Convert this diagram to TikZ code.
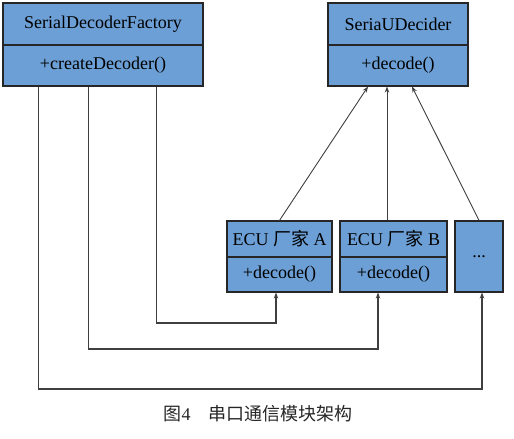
\documentclass[tikz,border=0pt]{standalone}
\usepackage{fontspec}
\setmainfont{Liberation Serif}
\newfontfamily\cjk{Noto Sans CJK SC}
\usetikzlibrary{arrows.meta}

\definecolor{boxblue}{HTML}{6C9FD5}
\definecolor{linegray}{HTML}{3F3F3F}

\begin{document}
\begin{tikzpicture}[
    x=1pt, y=-1pt,
    % class compartments (name and method rows)
    umlbox/.style={
        draw=black!85, line width=1.1pt, fill=boxblue,
        inner sep=0pt, align=center,
        font=\fontsize{18}{20}\selectfont
    },
    arrow/.style={-{Stealth[length=6pt,width=4.5pt]}, line width=0.9pt, linegray},
    link/.style={arrow, line width=1.1pt},
]
    \useasboundingbox (0,0) rectangle (514,439);

    % factory class
    \node[umlbox, minimum width=200pt, minimum height=42pt] (facname) at (103,24) {SerialDecoderFactory};
    \node[umlbox, minimum width=200pt, minimum height=41pt] (facmeth) at (103,65.5) {+createDecoder()};

    % decoder interface
    \node[umlbox, minimum width=140pt, minimum height=42pt] (decname) at (398,24) {SeriaUDecider};
    \node[umlbox, minimum width=140pt, minimum height=41pt] (decmeth) at (398,65.5) {+decode()};

    % vendor implementations
    \node[umlbox, minimum width=105pt, minimum height=36pt] (ecuAname) at (279.5,239) {ECU {\cjk 厂家} A};
    \node[umlbox, minimum width=105pt, minimum height=35pt] (ecuAmeth) at (279.5,274.5) {+decode()};
    \node[umlbox, minimum width=107pt, minimum height=36pt] (ecuBname) at (393.5,239) {ECU {\cjk 厂家} B};
    \node[umlbox, minimum width=107pt, minimum height=35pt] (ecuBmeth) at (393.5,274.5) {+decode()};
    \node[umlbox, minimum width=48pt, minimum height=71pt] (more) at (479,256.5) {...};

    % realisation arrows up to the interface
    \draw[arrow] (ecuAname.north) -- ([xshift=-30pt]decmeth.south);
    \draw[arrow] ([xshift=-6.5pt]ecuBname.north) -- ([xshift=-11pt]decmeth.south);
    \draw[arrow] (more.north) -- ([xshift=14pt]decmeth.south);

    % factory creates each implementation
    \draw[link] ([xshift=154pt]facmeth.south west) |- (157,323) -| ([xshift=-3.5pt]ecuAmeth.south);
    \draw[link] ([xshift=86pt]facmeth.south west) |- (89,349) -| ([xshift=-15.5pt]ecuBmeth.south);
    \draw[link] ([xshift=36pt]facmeth.south west) |- (39,389) -| ([xshift=3pt]more.south);

    % caption
    \node[font=\fontsize{18}{20}\selectfont, text=black!85] (caption) at (258,414) {{\cjk 图}4\hspace{18pt}{\cjk 串口通信模块架构}};
\end{tikzpicture}
\end{document}
